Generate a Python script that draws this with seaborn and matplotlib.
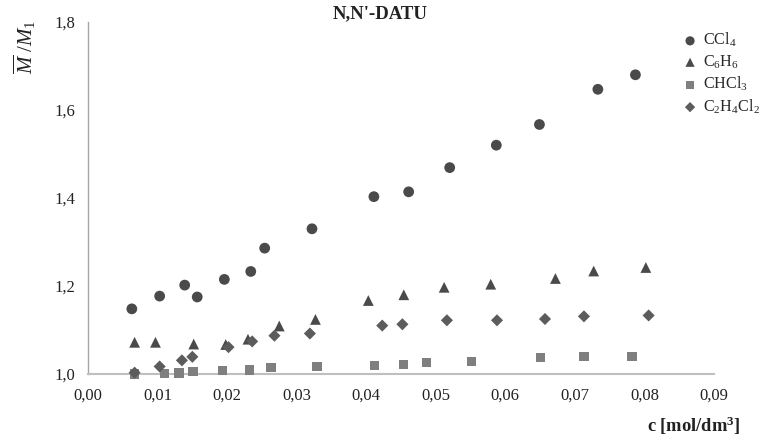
import matplotlib
matplotlib.use('Agg')
import matplotlib.pyplot as plt
from matplotlib.ticker import FuncFormatter
import pandas as pd
import seaborn as sns

# N,N'-DATU: M/M1 vs concentration in four solvents
c_ccl4 = [0.0063, 0.0103, 0.0139, 0.0157, 0.0196, 0.0234, 0.0254, 0.0322,
          0.0411, 0.0461, 0.0520, 0.0587, 0.0649, 0.0733, 0.0787]
m_ccl4 = [1.148, 1.177, 1.202, 1.175, 1.215, 1.233, 1.286, 1.330,
          1.403, 1.414, 1.469, 1.520, 1.567, 1.647, 1.680]

c_c6h6 = [0.0067, 0.0097, 0.0152, 0.0198, 0.0230, 0.0275, 0.0327, 0.0403,
          0.0454, 0.0512, 0.0579, 0.0672, 0.0727, 0.0802]
m_c6h6 = [1.072, 1.072, 1.068, 1.067, 1.079, 1.109, 1.124, 1.167,
          1.180, 1.197, 1.204, 1.217, 1.234, 1.242]

c_chcl3 = [0.0067, 0.0110, 0.0131, 0.0151, 0.0193, 0.0232, 0.0263, 0.0329,
           0.0412, 0.0454, 0.0487, 0.0551, 0.0651, 0.0713, 0.0782]
m_chcl3 = [1.000, 1.001, 1.002, 1.005, 1.008, 1.009, 1.014, 1.017,
           1.020, 1.021, 1.026, 1.028, 1.037, 1.039, 1.040]

c_c2h4cl2 = [0.0067, 0.0103, 0.0135, 0.0150, 0.0202, 0.0236, 0.0268, 0.0319,
             0.0423, 0.0452, 0.0516, 0.0588, 0.0657, 0.0713, 0.0806]
m_c2h4cl2 = [1.003, 1.017, 1.031, 1.039, 1.061, 1.074, 1.087, 1.092,
             1.110, 1.113, 1.122, 1.122, 1.125, 1.131, 1.133]

labels = [r'CCl$_\mathregular{4}$', r'C$_\mathregular{6}$H$_\mathregular{6}$',
          r'CHCl$_\mathregular{3}$',
          r'C$_\mathregular{2}$H$_\mathregular{4}$Cl$_\mathregular{2}$']
x_ticks = [0.00, 0.01, 0.02, 0.03, 0.04, 0.05, 0.06, 0.07, 0.08, 0.09]
y_ticks = [1.0, 1.2, 1.4, 1.6, 1.8]

series = [
    (c_ccl4, m_ccl4, 'o', '#4a4a4c', 60),
    (c_c6h6, m_c6h6, '^', '#4a4a4c', 60),
    (c_chcl3, m_chcl3, 's', '#7f7f7f', 45),
    (c_c2h4cl2, m_c2h4cl2, 'D', '#5c5c5e', 38),
]

sns.set_style('white')
plt.rcParams['font.family'] = ['Liberation Serif', 'DejaVu Serif']
plt.rcParams['mathtext.fontset'] = 'custom'
plt.rcParams['mathtext.rm'] = 'Liberation Serif'
plt.rcParams['mathtext.it'] = 'Liberation Serif:italic'
plt.rcParams['mathtext.bf'] = 'Liberation Serif:bold'

fig = plt.figure(figsize=(7.6, 4.44), dpi=100)
ax = fig.add_axes([0.1158, 0.1577, 0.8237, 0.7928])

for (cx, my, mk, col, sz), lab in zip(series, labels):
    df = pd.DataFrame({'c': cx, 'm': my})
    sns.scatterplot(data=df, x='c', y='m', marker=mk, color=col, s=sz,
                    edgecolor='none', label=lab, ax=ax, clip_on=False, zorder=3)

ax.set_xlim(0, 0.09)
ax.set_ylim(1.0, 1.8)
ax.set_xticks(x_ticks)
ax.set_yticks(y_ticks)
ax.xaxis.set_major_formatter(FuncFormatter(lambda v, p: f'{v:.2f}'.replace('.', ',')))
ax.yaxis.set_major_formatter(FuncFormatter(lambda v, p: f'{v:.1f}'.replace('.', ',')))
ax.tick_params(axis='both', length=0, labelsize=12, colors='#222222')
ax.tick_params(axis='x', pad=10)
ax.tick_params(axis='y', pad=9)
ax.set_xlabel('')
ax.set_ylabel('')

for s in ['top', 'right']:
    ax.spines[s].set_visible(False)
ax.spines['left'].set_color('#a6a6a6')
ax.spines['left'].set_linewidth(1.0)
ax.spines['bottom'].set_color('#bfbfbf')
ax.spines['bottom'].set_linewidth(1.5)

fig.text(0.5, 0.968, "N,N'-DATU", ha='center', va='center',
         fontsize=13.5, fontweight='bold', color='#222222')
fig.text(0.033, 0.955, r'$\overline{M}\ /M_1$', rotation=90, ha='center', va='top',
         fontsize=15, color='#222222')
fig.text(0.974, 0.04, r'c [mol/dm$^\mathbf{3}$]', ha='right', va='center',
         fontsize=13.3, fontweight='bold', color='#222222')

ax.legend(loc='upper left', bbox_to_anchor=(682 / 760, 0.93), bbox_transform=fig.transFigure,
          frameon=False, borderpad=0, borderaxespad=0, handlelength=1.0, markerscale=0.85,
          handletextpad=0.3, labelspacing=0.25, fontsize=11.6)

fig.savefig('out.png', dpi=100)
plt.close(fig)
